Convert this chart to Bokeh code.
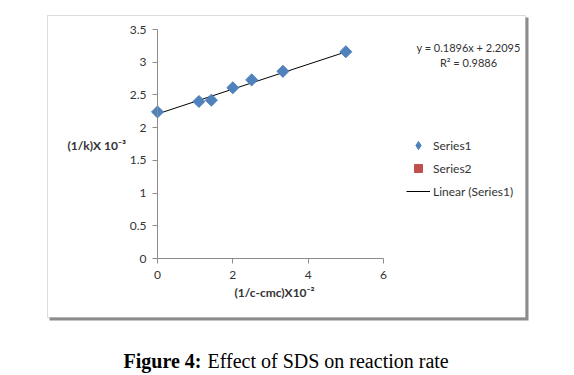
import numpy as np
from bokeh.plotting import figure
from bokeh.models import (Range1d, Label, BoxAnnotation, Legend, LegendItem,
                          FixedTicker, LinearAxis)
from bokeh.embed import file_html
from bokeh.resources import INLINE

# ---- data ----
x_vals = [0, 1.1, 1.43, 2.0, 2.5, 3.33, 5.0]
y_vals = [2.24, 2.40, 2.42, 2.61, 2.73, 2.86, 3.16]
slope = 0.1896
intercept = 2.2095
r2 = 0.9886
x_ticks = [0, 2, 4, 6]
y_ticks = [0, 0.5, 1, 1.5, 2, 2.5, 3, 3.5]
x_title = "(1/c-cmc)X10\u207b\u00b2"
y_title = "(1/k)X 10\u207b\u00b3"
caption_bold = "Figure 4:"
caption_rest = "Effect of SDS on reaction rate"

W, H = 574, 375
PL, PR, PT, PB = 157, 383, 29, 258  # plot-area pixel bounds
XMAX, YMAX = 6.0, 3.5
ppx = (PR - PL) / XMAX
ppy = (PB - PT) / YMAX
def X(px):
    return (px - PL) / ppx
def Y(py):
    return (PB - py) / ppy

p = figure(width=W, height=H, output_backend="svg", toolbar_location=None,
           x_range=Range1d(X(0), X(W)), y_range=Range1d(Y(H), Y(0)),
           x_axis_location=None, y_axis_location=None,
           min_border=0)
p.outline_line_color = None
p.grid.visible = False
p.background_fill_color = "white"
p.border_fill_color = "white"

# chart border with shadow
p.add_layout(BoxAnnotation(left=X(49), right=X(528), top=Y(17), bottom=Y(320),
                           fill_color="#8c8c8c", fill_alpha=1, line_color=None,
                           level="underlay"))
p.add_layout(BoxAnnotation(left=X(47), right=X(525), top=Y(15), bottom=Y(317),
                           fill_color="white", fill_alpha=1, line_color="#8c8c8c",
                           line_width=1, level="underlay"))

xaxis = LinearAxis(fixed_location=0, bounds=(0, XMAX), ticker=FixedTicker(ticks=x_ticks))
yaxis = LinearAxis(fixed_location=0, bounds=(0, YMAX), ticker=FixedTicker(ticks=y_ticks))
for ax in (xaxis, yaxis):
    ax.axis_line_color = "#8c8c8c"
    ax.major_tick_line_color = "#8c8c8c"
    ax.major_tick_out = 5
    ax.major_tick_in = 0
    ax.minor_tick_line_color = None
    ax.major_label_text_font = "Lato"
    ax.major_label_text_font_size = "12px"
    ax.major_label_text_color = "#333333"
xaxis.major_label_standoff = 7
yaxis.major_label_standoff = 6
p.add_layout(xaxis, "below")
p.add_layout(yaxis, "left")

# trendline
xl = np.array([min(x_vals), max(x_vals)])
line_r = p.line(xl, slope * xl + intercept, line_color="black", line_width=1)
pts = p.scatter(x_vals, y_vals, marker="square", size=8.5, angle=np.pi / 4,
                fill_color="#4F81BD", line_color="#4F81BD")
# legend-only renderers
leg1 = p.scatter([np.nan], [np.nan], marker="diamond", size=10,
                 fill_color="#4F81BD", line_color="#4F81BD")
s2 = p.scatter([np.nan], [np.nan], marker="square", size=8, fill_color="#C0504D",
               line_color="#C0504D")

legend = Legend(items=[LegendItem(label="Series1", renderers=[leg1]),
                       LegendItem(label="Series2", renderers=[s2]),
                       LegendItem(label="Linear (Series1)", renderers=[line_r])],
                location=(406, H - 201), orientation="vertical",
                glyph_width=24, glyph_height=20, label_height=20,
                label_standoff=3, spacing=3, padding=0, margin=0,
                border_line_color=None, background_fill_alpha=0,
                label_text_font="Lato", label_text_font_size="12px",
                label_text_color="#333333")
p.add_layout(legend, "center")

lab = dict(text_font="Lato", text_font_size="12px", text_color="#333333",
           text_baseline="middle")
eq = dict(lab, text_font_size="11px")
p.add_layout(Label(x=X(468), y=Y(47), text=f"y = {slope}x + {intercept}",
                   text_align="center", **eq))
p.add_layout(Label(x=X(468), y=Y(62), text=f"R\u00b2 = {r2}",
                   text_align="center", **eq))
p.add_layout(Label(x=X(67), y=Y(145), text=y_title, text_align="left",
                   text_font_style="bold", **lab))
p.add_layout(Label(x=X(274), y=Y(292), text=x_title, text_align="center",
                   text_font_style="bold", **lab))
cap = dict(text_font="Liberation Serif", text_font_size="20px", text_color="black",
           text_baseline="alphabetic")
p.add_layout(Label(x=X(123), y=Y(360), text=caption_bold, text_align="left",
                   text_font_style="bold", **cap))
p.add_layout(Label(x=X(207), y=Y(360), text=caption_rest, text_align="left", **cap))

open("out.html", "w").write(file_html(p, INLINE))
